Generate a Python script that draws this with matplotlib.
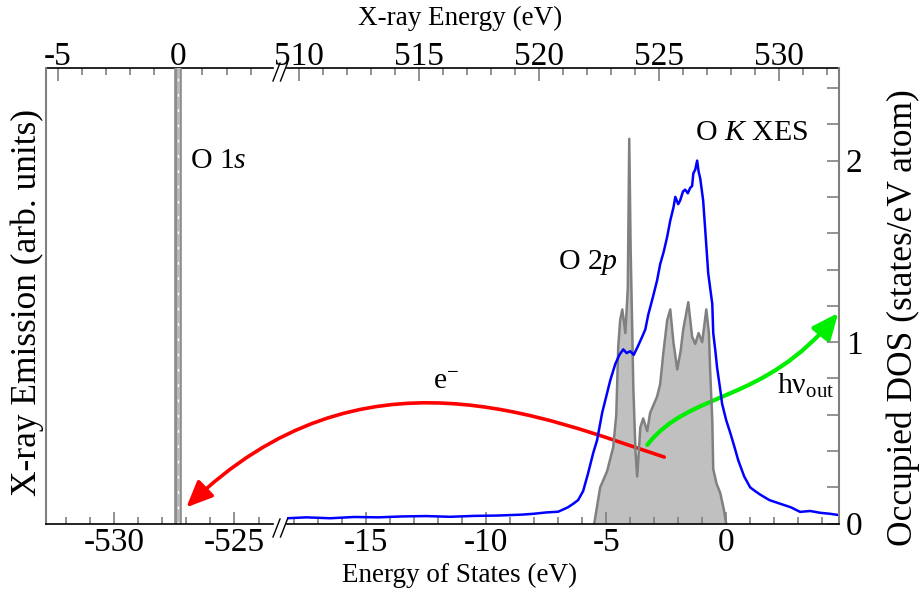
import matplotlib
matplotlib.use("Agg")
import matplotlib.pyplot as plt
from matplotlib.patches import FancyArrowPatch
from matplotlib.path import Path
from matplotlib.ticker import MultipleLocator, NullLocator, FixedLocator

plt.rcParams['font.family'] = 'Liberation Serif'
plt.rcParams['mathtext.fontset'] = 'custom'
plt.rcParams['mathtext.rm'] = 'Liberation Serif'
plt.rcParams['mathtext.it'] = 'Liberation Serif:italic'
plt.rcParams['axes.unicode_minus'] = False

# O K XES spectrum (scaled to DOS axis), energy relative to VBM
xes_x = [-18.3, -17.5, -16.5, -15.5, -14.5, -13.5, -12.5, -11.5, -10.5, -9.5, -8.5, -8.0, -7.5, -7.0,
         -6.6, -6.37, -6.17, -5.96, -5.75, -5.54, -5.38, -5.17, -5.0, -4.83, -4.62, -4.45, -4.29, -4.15,
         -4.0, -3.85, -3.67, -3.5, -3.37, -3.25, -3.05, -2.88, -2.75, -2.6, -2.46, -2.33, -2.2, -2.12,
         -2.0, -1.92, -1.8, -1.71, -1.6, -1.5, -1.42, -1.37, -1.29, -1.21, -1.15, -1.08, -0.96, -0.88,
         -0.75, -0.65, -0.58, -0.54, -0.45, -0.38, -0.25, -0.17, 0.0, 0.17, 0.35, 0.5, 0.75, 1.0, 1.2,
         1.42, 1.8, 2.25, 2.7, 3.08, 3.5, 3.92, 4.3, 4.67]
xes_y = [0.030, 0.035, 0.030, 0.037, 0.035, 0.040, 0.042, 0.038, 0.043, 0.045, 0.050, 0.055, 0.062, 0.066,
         0.09, 0.11, 0.13, 0.18, 0.28, 0.39, 0.46, 0.61, 0.70, 0.79, 0.88, 0.93, 0.96, 0.94,
         0.95, 0.93, 0.98, 1.03, 1.07, 1.15, 1.25, 1.34, 1.43, 1.50, 1.58, 1.67, 1.74, 1.80,
         1.76, 1.78, 1.83, 1.84, 1.82, 1.85, 1.86, 1.93, 1.95, 2.0, 1.94, 1.90, 1.78, 1.63,
         1.38, 1.28, 1.21, 1.05, 0.95, 0.86, 0.74, 0.66, 0.57, 0.50, 0.42, 0.35, 0.26, 0.20, 0.18,
         0.16, 0.13, 0.11, 0.09, 0.065, 0.07, 0.06, 0.055, 0.048]

# occupied O 2p DOS
dos_x = [-5.5, -5.25, -4.96, -4.71, -4.58, -4.5, -4.42, -4.33, -4.2, -4.1, -4.04, -3.98, -3.92, -3.87,
         -3.78, -3.71, -3.64, -3.58, -3.46, -3.29, -3.17, -2.88, -2.75, -2.62, -2.46, -2.33, -2.2,
         -2.04, -1.9, -1.79, -1.58, -1.42, -1.29, -1.15, -1.0, -0.83, -0.72, -0.67, -0.58, -0.54,
         -0.4, -0.25, -0.1, 0.0]
dos_y = [0.0, 0.2, 0.29, 0.42, 0.6, 0.97, 1.12, 1.18, 1.05, 1.3, 2.12, 1.5, 1.1, 0.75,
         0.4, 0.26, 0.4, 0.53, 0.58, 0.51, 0.61, 0.70, 0.77, 0.94, 1.12, 1.18, 1.0,
         0.85, 0.95, 1.07, 1.22, 1.03, 0.99, 1.05, 1.0, 1.18, 1.05, 0.85, 0.57, 0.30,
         0.22, 0.17, 0.08, 0.0]

o1s_pos = -527.33          # core level position on the left segment
top_off_left = 527.33      # X-ray energy = energy of states + offset
top_off_right = 527.8
top_major_left = [-5, 0]
top_major_right = [510, 515, 520, 525, 530]

# arrow paths (data coordinates of the right panel, tip of red one on the left panel)
red_path = [(-2.58, 0.367), (-7.5, 0.58), (-15.2, 1.03)]
red_tip = (-527.0, 0.09)
green_path = [(-3.29, 0.434), (-1.5, 0.737), (1.54, 0.654), (4.67, 1.161)]

fig = plt.figure(figsize=(9.2, 5.94), dpi=100)
bot = 1 - 523.7 / 594
hgt = (523.7 - 68) / 594
axL = fig.add_axes([46 / 920, bot, (273 - 46) / 920, hgt])
axR = fig.add_axes([287 / 920, bot, (839 - 287) / 920, hgt])

axL.set_xlim(-532.83, -523.4)
axR.set_xlim(-18.3, 4.7)
for ax in (axL, axR):
    ax.set_ylim(0, 2.51)
    ax.spines['top'].set_visible(False)
    ax.spines['bottom'].set_color('black')
    ax.spines['bottom'].set_linewidth(1.2)
    ax.xaxis.set_major_locator(MultipleLocator(5))
    ax.xaxis.set_minor_locator(MultipleLocator(1))
    ax.tick_params(axis='x', which='both', direction='in', color='#808080', width=1.2,
                   labelsize=24, pad=3, top=False)
    ax.tick_params(axis='x', which='major', length=9)
    ax.tick_params(axis='x', which='minor', length=5)

axL.spines['right'].set_visible(False)
axL.spines['left'].set_color('#808080')
axL.spines['left'].set_linewidth(1.5)
axL.yaxis.set_major_locator(NullLocator())

axR.spines['left'].set_visible(False)
axR.spines['right'].set_color('#808080')
axR.spines['right'].set_linewidth(1.5)
axR.yaxis.tick_right()
axR.yaxis.set_major_locator(MultipleLocator(1))
axR.yaxis.set_minor_locator(MultipleLocator(0.2))
axR.tick_params(axis='y', which='both', direction='in', color='#808080', width=1.2,
                labelsize=24, pad=5)
axR.tick_params(axis='y', which='major', length=9)
axR.tick_params(axis='y', which='minor', length=9)

# top energy axes
secL = axL.secondary_xaxis('top', functions=(lambda x: x + top_off_left, lambda x: x - top_off_left))
secR = axR.secondary_xaxis('top', functions=(lambda x: x + top_off_right, lambda x: x - top_off_right))
secL.xaxis.set_major_locator(FixedLocator(top_major_left))
secL.xaxis.set_minor_locator(FixedLocator(range(-5, 4)))
secR.xaxis.set_major_locator(FixedLocator(top_major_right))
secR.xaxis.set_minor_locator(FixedLocator(range(510, 533)))
for sec in (secL, secR):
    sec.spines['top'].set_color('black')
    sec.spines['top'].set_linewidth(1.2)
    sec.tick_params(which='both', direction='in', color='#808080', width=1.2, labelsize=24, pad=-3)
    sec.tick_params(which='major', length=9)
    sec.tick_params(which='minor', length=5)

# O 1s core level
axL.axvline(o1s_pos, color='#8c8c8c', lw=5.5)
axL.axvline(o1s_pos, color='#b8b8b8', lw=2.2)
axL.axvline(o1s_pos, color='white', lw=1, dashes=(2, 9))

# DOS and XES
axR.fill_between(dos_x, dos_y, color='#c0c0c0', lw=0)
axR.plot(dos_x, dos_y, color='#808080', lw=1.8)
axR.plot(xes_x, xes_y, color='#0000ff', lw=1.8)

# electron arrow spanning the axis break: tip mapped from left panel into right panel coords
tip_r = axR.transData.inverted().transform(axL.transData.transform(red_tip))
rp = Path(red_path + [tuple(tip_r)], [Path.MOVETO, Path.CURVE4, Path.CURVE4, Path.CURVE4])
red = FancyArrowPatch(path=rp, arrowstyle='-|>,head_length=0.8,head_width=0.35', mutation_scale=20,
                      color='#ff0000', lw=2.6, transform=axR.transData, clip_on=False)
axR.add_patch(red)

# emitted photon arrow
gp = Path(green_path, [Path.MOVETO, Path.CURVE4, Path.CURVE4, Path.CURVE4])
green = FancyArrowPatch(path=gp, arrowstyle='-|>,head_length=0.8,head_width=0.35', mutation_scale=20,
                        color='#00ee00', lw=3, transform=axR.transData, clip_on=False)
axR.add_patch(green)

# labels
axL.text(-526.83, 2.0, 'O 1$s$', fontsize=21.5, va='center', ha='left')
axR.text(-4.5, 1.44, 'O 2$p$', fontsize=21.5, va='center', ha='right')
axR.text(-1.29, 2.15, 'O $K$ XES', fontsize=21.5, va='center', ha='left')
axR.text(-12.2, 0.78, 'e$^{\\mathrm{-}}$', fontsize=21.5, va='center', ha='left')
axR.text(2.1, 0.76, 'h\u03bd$_{\\mathrm{out}}$', fontsize=21.5, va='center', ha='left')

fig.text(460 / 920, 1 - 575 / 594, 'Energy of States (eV)', fontsize=19.5, ha='center', va='center')
fig.text(460 / 920, 1 - 18 / 594, 'X-ray Energy (eV)', fontsize=19.5, ha='center', va='center')
fig.text(27 / 920, 1 - 302 / 594, 'X-ray Emission (arb. units)', fontsize=25.5, rotation=90,
         ha='center', va='center')
fig.text(903 / 920, 1 - 318 / 594, 'Occupied DOS (states/eV atom)', fontsize=25.5, rotation=90,
         ha='center', va='center')

# axis break marks
for y0 in (1 - 528 / 594, 1 - 72 / 594):
    for x0 in (276.5, 284):
        fig.add_artist(plt.Line2D([(x0 - 3.5) / 920, (x0 + 3.5) / 920],
                                  [y0 - 9 / 594, y0 + 9 / 594], color='black', lw=1))

fig.savefig('out.png', dpi=100)
